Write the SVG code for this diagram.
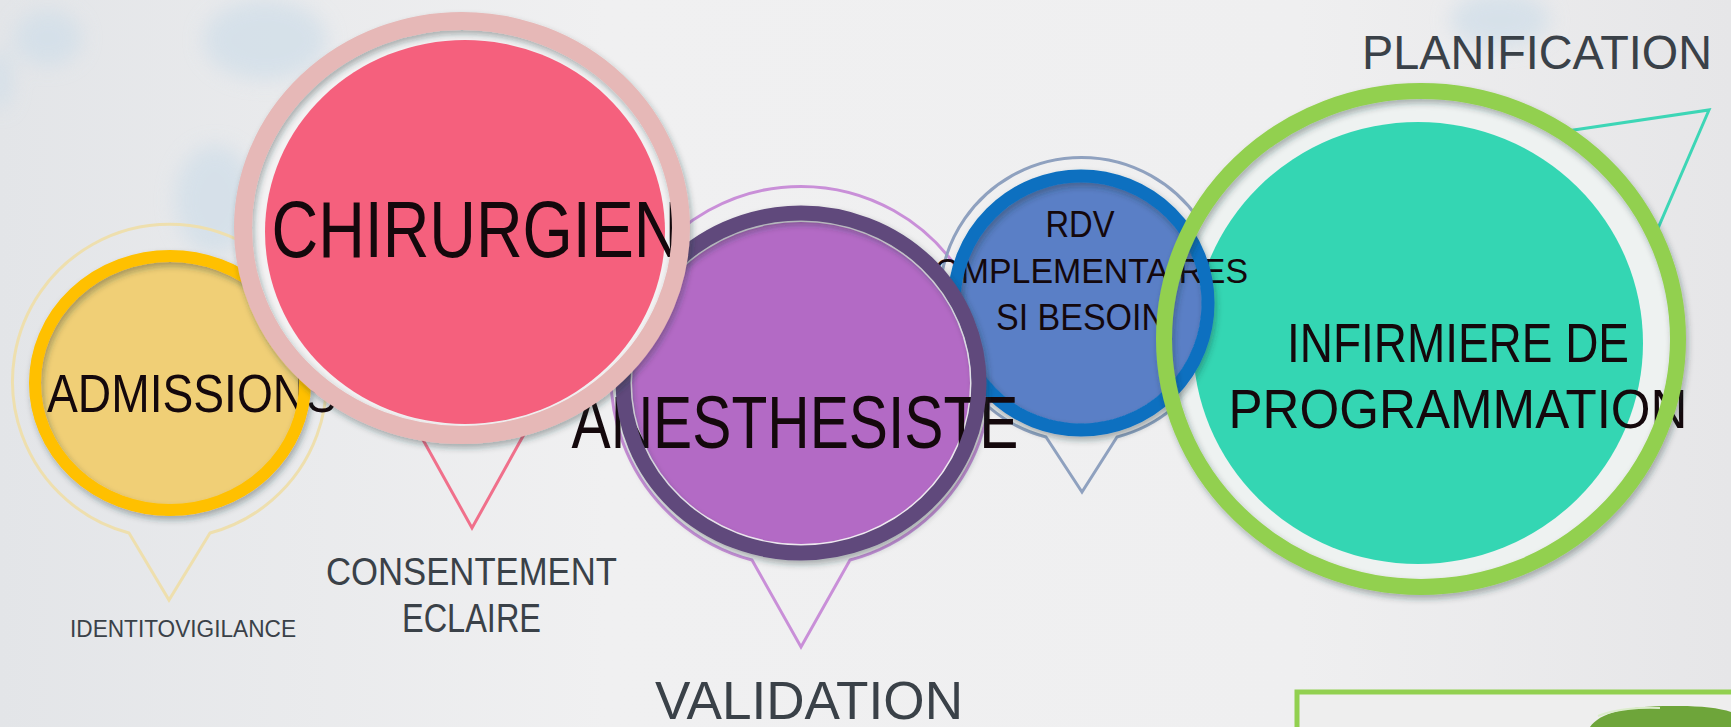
<svg xmlns="http://www.w3.org/2000/svg" width="1731" height="727" viewBox="0 0 1731 727">
<style>
.lbl{font-family:"Liberation Sans",Arial,sans-serif;fill:#14080c}
.out{font-family:"Liberation Sans",Arial,sans-serif;fill:#3a4148}
.pin{fill:none;stroke-width:3;stroke-linejoin:miter}
</style>
<defs>
<linearGradient id="bg" x1="0" y1="0" x2="1" y2="0">
<stop offset="0" stop-color="#e3e5e8"/>
<stop offset="0.35" stop-color="#f0f0f1"/>
<stop offset="0.75" stop-color="#efeff0"/>
<stop offset="1" stop-color="#e6e6e8"/>
</linearGradient>
<filter id="blur" x="-50%" y="-50%" width="200%" height="200%"><feGaussianBlur stdDeviation="10"/></filter>
<filter id="sh" x="-20%" y="-20%" width="140%" height="140%"><feDropShadow dx="2" dy="4" stdDeviation="3" flood-color="#203030" flood-opacity="0.35"/></filter>
</defs>
<rect width="1731" height="727" fill="url(#bg)"/>
<g id="bubbles" filter="url(#blur)" fill="#d2dfe9" opacity="0.8">
<ellipse cx="48" cy="38" rx="34" ry="28"/>
<ellipse cx="265" cy="40" rx="62" ry="40"/>
<ellipse cx="215" cy="200" rx="40" ry="55"/>
<ellipse cx="1500" cy="20" rx="50" ry="28"/>
<ellipse cx="0" cy="80" rx="12" ry="30"/>
</g>

<g id="connectors">
<path class="pin" stroke="#eedfae" d="M129,533 A157,157 0 1 1 210,533 L169,600 Z"/>
<path class="pin" stroke="#f0708b" d="M412,420 L472,528 L532,420"/>
<path class="pin" stroke="#c98fd8" d="M752,560 A190,190 0 1 1 850,560 L801,647 Z"/>
<path class="pin" stroke="#8fa1bf" d="M1046,437 A142,142 0 1 1 1117,437 L1082,492 Z"/>
<path class="pin" stroke="#3dd6b6" stroke-width="4" d="M1540,135 L1709,110 L1640,270"/>
</g>

<g id="node-infirmiere">
<ellipse cx="1421" cy="339" rx="250" ry="241" fill="#eef2f1"/>
<ellipse cx="1418" cy="343" rx="225" ry="221" fill="#34d6b3"/>
<text class="lbl" x="1458" y="362" font-size="56" text-anchor="middle" textLength="342" lengthAdjust="spacingAndGlyphs">INFIRMIERE DE</text>
<text class="lbl" x="1458" y="428" font-size="56" text-anchor="middle" textLength="459" lengthAdjust="spacingAndGlyphs">PROGRAMMATION</text>
</g>

<g id="node-rdv">
<circle cx="1081" cy="303" r="123" fill="#f1f3f6"/>
<circle cx="1081" cy="303" r="121" fill="#5a7fc6"/>
<text class="lbl" x="1080" y="237" font-size="37" text-anchor="middle" textLength="69" lengthAdjust="spacingAndGlyphs">RDV</text>
<text class="lbl" x="1079" y="283" font-size="35" text-anchor="middle" textLength="338" lengthAdjust="spacingAndGlyphs">COMPLEMENTAIRES</text>
<text class="lbl" x="1081" y="330" font-size="37" text-anchor="middle" textLength="170" lengthAdjust="spacingAndGlyphs">SI BESOIN</text>
<circle cx="1081" cy="303" r="127" fill="none" stroke="#0b70c0" stroke-width="13" filter="url(#sh)"/>
</g>

<g id="node-infirmiere-ring">
<ellipse cx="1421" cy="339" rx="257" ry="248" fill="none" stroke="#92d050" stroke-width="16" filter="url(#sh)"/>
</g>

<g id="node-admissions">
<ellipse cx="170" cy="383" rx="130" ry="122" fill="#f0cf76"/>
<text class="lbl" x="192" y="412" font-size="54" text-anchor="middle" textLength="290" lengthAdjust="spacingAndGlyphs">ADMISSIONS</text>
<ellipse cx="170" cy="383" rx="135" ry="127" fill="none" stroke="#ffc000" stroke-width="12" filter="url(#sh)"/>
</g>

<g id="node-anesthesiste">
<ellipse cx="801" cy="383" rx="171" ry="163" fill="#f3eef5"/>
<ellipse cx="801" cy="383" rx="169" ry="161" fill="#b36ac5"/>
<text class="lbl" x="795" y="448" font-size="74" text-anchor="middle" textLength="447" lengthAdjust="spacingAndGlyphs">ANESTHESISTE</text>
<ellipse cx="801" cy="383" rx="178" ry="170" fill="none" stroke="#604a7b" stroke-width="15" filter="url(#sh)"/>
</g>

<g id="node-chirurgien">
<ellipse cx="462" cy="228" rx="211" ry="199" fill="#f3f2f3"/>
<ellipse cx="465" cy="232" rx="200" ry="192" fill="#f5607d"/>
<text class="lbl" x="476" y="257" font-size="80" text-anchor="middle" textLength="409" lengthAdjust="spacingAndGlyphs">CHIRURGIEN</text>
<ellipse cx="462" cy="228" rx="219" ry="207" fill="none" stroke="#e6b8b7" stroke-width="18" filter="url(#sh)"/>
</g>

<g id="labels">
<text class="out" x="1362" y="69" font-size="48" textLength="350" lengthAdjust="spacingAndGlyphs">PLANIFICATION</text>
<text class="out" x="655" y="719" font-size="54" textLength="308" lengthAdjust="spacingAndGlyphs">VALIDATION</text>
<text class="out" x="326" y="585" font-size="39" textLength="291" lengthAdjust="spacingAndGlyphs">CONSENTEMENT</text>
<text class="out" x="402" y="632" font-size="40" textLength="139" lengthAdjust="spacingAndGlyphs">ECLAIRE</text>
<text class="out" x="70" y="637" font-size="23" textLength="226" lengthAdjust="spacingAndGlyphs">IDENTITOVIGILANCE</text>
</g>

<g id="box">
<rect x="1297" y="692" width="460" height="60" fill="#eeeeee" stroke="#92d050" stroke-width="5"/>
<path d="M1590,727 C1600,712 1630,705 1680,706 C1700,706 1720,708 1731,712 L1731,727 Z" fill="#6ea53a"/>
<path d="M1598,716 C1615,709 1640,707 1660,708" fill="none" stroke="#dbeccb" stroke-width="2"/>
</g>
</svg>
